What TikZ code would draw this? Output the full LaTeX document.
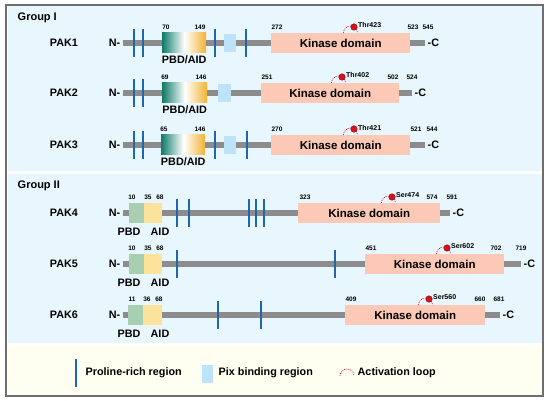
\documentclass[tikz,border=0pt]{standalone}
\usepackage{fontspec}
\setmainfont{Liberation Sans}
\usetikzlibrary{positioning}
\definecolor{panelblue}{HTML}{E8F6FD}
\definecolor{legendcream}{HTML}{FEFEF1}
\definecolor{framegray}{HTML}{6E6E6E}
\definecolor{bbgray}{HTML}{8C8C8C}
\definecolor{problue}{HTML}{1F66AC}
\definecolor{pixblue}{HTML}{BDE3F8}
\definecolor{kinpink}{HTML}{FBC9B5}
\definecolor{pbdteal}{HTML}{0F7B6B}
\definecolor{aidorange}{HTML}{F2B233}
\definecolor{pbdgreen}{HTML}{A9CFB3}
\definecolor{aidyellow}{HTML}{FDE29B}
\definecolor{sitered}{HTML}{D9121F}
\begin{document}
\begin{tikzpicture}[x=1pt,y=1pt,
  lbl/.style={font=\fontsize{10.8}{12}\selectfont\bfseries, inner sep=2.5pt},
  num/.style={font=\fontsize{6.5}{7}\selectfont\bfseries, inner sep=0pt},
  site/.style={font=\fontsize{7}{8}\selectfont\bfseries, inner sep=0pt, anchor=west},
  backbone/.style={draw=bbgray, line width=5.5pt},
  pro/.style={draw=problue, line width=2pt},
  pbdaid/.style={left color=pbdteal, right color=aidorange, middle color=white, minimum height=20pt, inner sep=0pt, anchor=west},
  pbd/.style={fill=pbdgreen, minimum height=20pt, inner sep=0pt, anchor=west},
  aid/.style={fill=aidyellow, minimum height=20pt, inner sep=0pt, anchor=west},
  pix/.style={fill=pixblue, minimum height=18pt, inner sep=0pt, anchor=west},
  kin/.style={fill=kinpink, minimum height=20pt, inner sep=0pt, anchor=west, font=\fontsize{11.5}{12}\selectfont\bfseries},
  dot/.style={circle, fill=sitered, draw=red!50!black, line width=0.4pt, minimum size=6.5pt, inner sep=0pt},
  loopline/.style={draw=sitered, line width=0.6pt, dash pattern=on 1pt off 1pt}]
\useasboundingbox (0,0) rectangle (550,401);

% panels
\path[fill=panelblue] (7.5,230) rectangle (542,394.5);
\path[fill=panelblue] (7.5,58) rectangle (542,227);
\path[fill=legendcream] (7.5,6.5) rectangle (542,56);
\path[draw=framegray, line width=1.2pt] (6,5) rectangle (543,396);

\node[lbl, font=\fontsize{11}{12}\selectfont\bfseries, anchor=west] (grp1) at (15,383) {Group I};
\node[lbl, font=\fontsize{11}{12}\selectfont\bfseries, anchor=west] (grp2) at (15,215) {Group II};

% PAK1
\node[lbl] (pak1) at (64,358) {PAK1};
\node[lbl, anchor=east] (n1) at (123,358) {N-};
\node[lbl, anchor=west] (c1) at (425,358) {-C};
\path[backbone] (n1.east) -- (c1.west);
\node[pbdaid, minimum width=44pt] (g1) at (162,358) {};
\node[pix, minimum width=12pt] (x1) at (224,358) {};
\node[kin, minimum width=139pt] (k1) at (271,358) {Kinase domain};
\node[lbl, below=0pt of g1] (t1) {PBD/AID};
\path[pro] (134,344) -- (134,372);
\path[pro] (143,344) -- (143,372);
\path[pro] (215,344) -- (215,372);
\path[pro] (246,344) -- (246,372);
\node[num] (a1) at (166,374) {70};
\node[num] (b1) at (200,374) {149};
\node[num] (s1) at (277,374) {272};
\node[num] (e1) at (413,374) {523};
\node[num] (l1) at (428,374) {545};
\path[loopline] (343.5,368) arc[start angle=180, end angle=0, radius=7];
\node[dot] (d1) at (354,374) {};
\node[site] (r1) at (358,375.5) {Thr423};

% PAK2
\node[lbl] (pak2) at (64,308) {PAK2};
\node[lbl, anchor=east] (n2) at (123,308) {N-};
\node[lbl, anchor=west] (c2) at (412,308) {-C};
\path[backbone] (n2.east) -- (c2.west);
\node[pbdaid, minimum width=45pt] (g2) at (162,308) {};
\node[pix, minimum width=13pt] (x2) at (218,308) {};
\node[kin, minimum width=138pt] (k2) at (261,308) {Kinase domain};
\node[lbl, below=0pt of g2] (t2) {PBD/AID};
\path[pro] (134,294) -- (134,322);
\path[pro] (143,294) -- (143,322);
\node[num] (a2) at (165,324) {69};
\node[num] (b2) at (201,324) {146};
\node[num] (s2) at (267,324) {251};
\node[num] (e2) at (393,324) {502};
\node[num] (l2) at (412,324) {524};
\path[loopline] (331.5,318) arc[start angle=180, end angle=0, radius=7];
\node[dot] (d2) at (342,324) {};
\node[site] (r2) at (346,325.5) {Thr402};

% PAK3
\node[lbl] (pak3) at (64,256) {PAK3};
\node[lbl, anchor=east] (n3) at (123,256) {N-};
\node[lbl, anchor=west] (c3) at (425,256) {-C};
\path[backbone] (n3.east) -- (c3.west);
\node[pbdaid, minimum width=44pt] (g3) at (161,256) {};
\node[pix, minimum width=12pt] (x3) at (224,256) {};
\node[kin, minimum width=139pt] (k3) at (271,256) {Kinase domain};
\node[lbl, below=0pt of g3] (t3) {PBD/AID};
\path[pro] (134,242) -- (134,270);
\path[pro] (143,242) -- (143,270);
\path[pro] (215,242) -- (215,270);
\path[pro] (247,242) -- (247,270);
\node[num] (a3) at (164,272) {65};
\node[num] (b3) at (200,272) {146};
\node[num] (s3) at (277,272) {270};
\node[num] (e3) at (416,272) {521};
\node[num] (l3) at (432,272) {544};
\path[loopline] (343.5,266) arc[start angle=180, end angle=0, radius=7];
\node[dot] (d3) at (354,272) {};
\node[site] (r3) at (358,273.5) {Thr421};

% PAK4
\node[lbl] (pak4) at (64,188) {PAK4};
\node[lbl, anchor=east] (n4) at (123,188) {N-};
\node[lbl, anchor=west] (c4) at (450,188) {-C};
\path[backbone] (n4.east) -- (c4.west);
\node[pbd, minimum width=15pt] (f4) at (129,188) {};
\node[aid, minimum width=18pt] (h4) at (144,188) {};
\node[kin, minimum width=142pt] (k4) at (298,188) {Kinase domain};
\node[lbl] (u4) at (129,169) {PBD};
\node[lbl] (v4) at (160,169) {AID};
\path[pro] (177,174) -- (177,202);
\path[pro] (189,174) -- (189,202);
\path[pro] (249,174) -- (249,202);
\path[pro] (256,174) -- (256,202);
\path[pro] (264,174) -- (264,202);
\node[num] (a4) at (132,204) {10};
\node[num] (b4) at (148,204) {35};
\node[num] (m4) at (160,204) {68};
\node[num] (s4) at (305,204) {323};
\node[num] (e4) at (432,204) {574};
\node[num] (l4) at (452,204) {591};
\path[loopline] (381.5,198) arc[start angle=180, end angle=0, radius=7];
\node[dot] (d4) at (392,204) {};
\node[site] (r4) at (396,205.5) {Ser474};

% PAK5
\node[lbl] (pak5) at (64,137) {PAK5};
\node[lbl, anchor=east] (n5) at (123,137) {N-};
\node[lbl, anchor=west] (c5) at (521,137) {-C};
\path[backbone] (n5.east) -- (c5.west);
\node[pbd, minimum width=15pt] (f5) at (129,137) {};
\node[aid, minimum width=18pt] (h5) at (144,137) {};
\node[kin, minimum width=139pt] (k5) at (365,137) {Kinase domain};
\node[lbl] (u5) at (129,118) {PBD};
\node[lbl] (v5) at (160,118) {AID};
\path[pro] (177,123) -- (177,151);
\path[pro] (335,123) -- (335,151);
\node[num] (a5) at (132,153) {10};
\node[num] (b5) at (148,153) {35};
\node[num] (m5) at (160,153) {68};
\node[num] (s5) at (371,153) {451};
\node[num] (e5) at (496,153) {702};
\node[num] (l5) at (521,153) {719};
\path[loopline] (436.5,147) arc[start angle=180, end angle=0, radius=7];
\node[dot] (d5) at (447,153) {};
\node[site] (r5) at (451,154.5) {Ser602};

% PAK6
\node[lbl] (pak6) at (64,86) {PAK6};
\node[lbl, anchor=east] (n6) at (123,86) {N-};
\node[lbl, anchor=west] (c6) at (500,86) {-C};
\path[backbone] (n6.east) -- (c6.west);
\node[pbd, minimum width=15pt] (f6) at (128,86) {};
\node[aid, minimum width=19pt] (h6) at (143,86) {};
\node[kin, minimum width=140pt] (k6) at (345,86) {Kinase domain};
\node[lbl] (u6) at (129,67) {PBD};
\node[lbl] (v6) at (160,67) {AID};
\path[pro] (218,72) -- (218,100);
\path[pro] (261,72) -- (261,100);
\node[num] (a6) at (132,102) {11};
\node[num] (b6) at (147,102) {36};
\node[num] (m6) at (159,102) {68};
\node[num] (s6) at (351,102) {409};
\node[num] (e6) at (480,102) {660};
\node[num] (l6) at (499,102) {681};
\path[loopline] (418.5,96) arc[start angle=180, end angle=0, radius=7];
\node[dot] (d6) at (429,102) {};
\node[site] (r6) at (433,103.5) {Ser560};

% legend
\path[pro] (76,14) -- (76,42);
\node[lbl, anchor=west] (lg1) at (83,28) {Proline-rich region};
\node[pix, minimum width=11pt] (lg2) at (202,27) {};
\node[lbl, anchor=west] (lg3) at (216,28) {Pix binding region};
\path[loopline] (340,25) arc[start angle=180, end angle=0, radius=7];
\node[lbl, anchor=west] (lg4) at (355,28) {Activation loop};
\end{tikzpicture}
\end{document}
